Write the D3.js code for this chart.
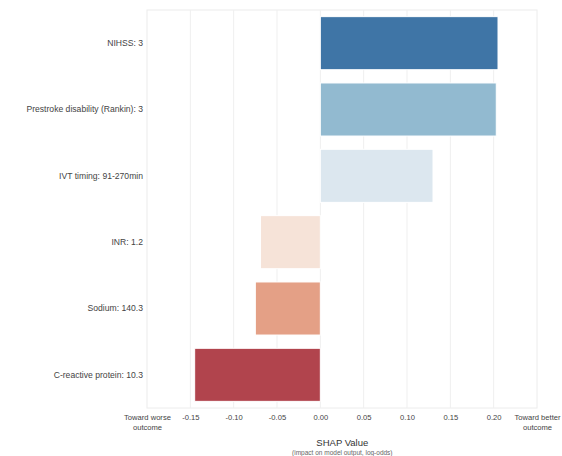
<!DOCTYPE html>
<html><head><meta charset="utf-8">
<script src="https://cdn.jsdelivr.net/npm/d3@7"></script>
<style>body{margin:0;background:#fff}svg{display:block}text{font-family:"Liberation Sans",Arial,sans-serif}</style>
</head><body><svg id="c" width="562" height="456"></svg>
<script>
const categories = ["NIHSS: 3","Prestroke disability (Rankin): 3","IVT timing: 91-270min","INR: 1.2","Sodium: 140.3","C-reactive protein: 10.3"];
const values = [0.205, 0.203, 0.130, -0.069, -0.075, -0.145];
const colors = ["#3f75a6","#92bad0","#dce7ef","#f6e3d8","#e4a086","#b1444d"];
const tickValues = [-0.2,-0.15,-0.1,-0.05,0,0.05,0.1,0.15,0.2,0.25];
const tickLabels = ["Toward worse\noutcome","-0.15","-0.10","-0.05","0.00","0.05","0.10","0.15","0.20","Toward better\noutcome"];

const svg = d3.select("#c");
const L=147,R=537,T=10,B=408;
const x = d3.scaleLinear().domain([-0.2,0.25]).range([L,R]);
const y = d3.scaleBand().domain(categories).range([T,B]).paddingInner(0.2).paddingOuter(0.1);

svg.append("rect").attr("x",L).attr("y",T).attr("width",R-L).attr("height",B-T)
  .attr("fill","#fff").attr("stroke","#ececec").attr("stroke-width",1);
svg.append("g").selectAll("line").data(tickValues.slice(1,-1)).join("line")
  .attr("x1",d=>x(d)).attr("x2",d=>x(d)).attr("y1",T).attr("y2",B)
  .attr("stroke","#efefef").attr("stroke-width",1);

svg.append("g").selectAll("rect").data(values).join("rect")
  .attr("x",d=>x(Math.min(0,d))).attr("width",d=>Math.abs(x(d)-x(0)))
  .attr("y",(d,i)=>y(categories[i])).attr("height",y.bandwidth())
  .attr("fill",(d,i)=>colors[i]).attr("stroke","#fff").attr("stroke-width",1);

const ya = svg.append("g").attr("transform",`translate(${L-4},0)`)
  .call(d3.axisLeft(y).tickSize(0).tickPadding(0));
ya.select(".domain").remove();
ya.selectAll("text").attr("font-size",8.6).attr("fill","#444").style("font-family","Liberation Sans, Arial, sans-serif");

const xa = svg.append("g").attr("transform",`translate(0,${B+4})`)
  .call(d3.axisBottom(x).tickValues(tickValues).tickSize(0).tickPadding(3).tickFormat((d,i)=>tickLabels[i]));
xa.select(".domain").remove();
xa.selectAll("text").attr("font-size",7.6).attr("fill","#444").style("font-family","Liberation Sans, Arial, sans-serif")
  .each(function(d,i){
    const t=d3.select(this), parts=tickLabels[i].split("\n");
    if(parts.length>1){t.text(null);parts.forEach((p,k)=>t.append("tspan").attr("x",0).attr("dy",k?"1.25em":"0.71em").text(p));}
  });

svg.append("text").attr("x",x(0)+22).attr("y",446).attr("text-anchor","middle")
  .attr("font-size",9.5).attr("fill","#333").text("SHAP Value");
svg.append("text").attr("x",x(0)+22).attr("y",455).attr("text-anchor","middle")
  .attr("font-size",6.5).attr("fill","#666").text("(impact on model output, log-odds)");
</script></body></html>
